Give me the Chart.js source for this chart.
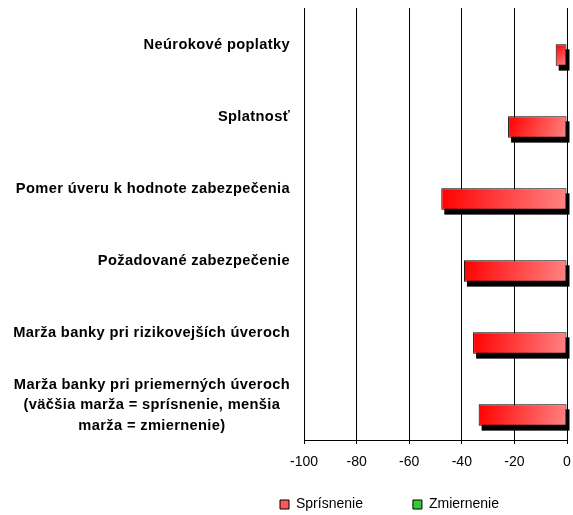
<!DOCTYPE html>
<html>
<head>
<meta charset="utf-8">
<script src="https://cdn.jsdelivr.net/npm/chart.js@4"></script>
<style>
  html, body { margin: 0; padding: 0; background: #fff; }
  #wrap { width: 573px; height: 515px; position: relative; }
</style>
</head>
<body>
<div id="wrap"><canvas id="creditChart"></canvas></div>
<script>
// Data
const categories = [
	'Neúrokové poplatky',
	'Splatnosť',
	'Pomer úveru k hodnote zabezpečenia',
	'Požadované zabezpečenie',
	'Marža banky pri rizikovejších úveroch',
	['Marža banky pri priemerných úveroch', '(väčšia marža = sprísnenie, menšia', 'marža = zmiernenie)']
];
const sprisnenie = [-4.3, -22.4, -47.8, -39.2, -35.7, -33.6];
const zmiernenie = [0, 0, 0, 0, 0, 0];
const xTicks = [-100, -80, -60, -40, -20, 0];
const seriesNames = ['Zmiernenie', 'Sprísnenie'];

const legendFill = ['#33cc33', '#ff5757'];
const legendPad = 50;

Chart.defaults.font.family = '"Liberation Sans", Arial, sans-serif';
Chart.defaults.color = '#000';

// gradient for each red bar, strong red on the left, lighter to the right
function barFill(context) {
	const chart = context.chart;
	const xs = chart.scales.x;
	const ys = chart.scales.y;
	if (!xs || !ys || context.raw == null) return '#ff4040';
	const x0 = xs.getPixelForValue(context.raw);
	const x1 = xs.getPixelForValue(0);
	const yc = ys.getPixelForValue(context.dataIndex);
	if (![x0, x1, yc].every(Number.isFinite)) return '#ff4040';
	const g = chart.ctx.createLinearGradient(x0, yc, x1, yc + 22);
	g.addColorStop(0, '#ff0000');
	g.addColorStop(1, '#ff8585');
	return g;
}

// black drop shadow under the bars
const barShadow = {
	id: 'barShadow',
	beforeDatasetsDraw(chart) {
		const ctx = chart.ctx;
		ctx.save();
		ctx.fillStyle = '#000';
		chart.getDatasetMeta(1).data.forEach(bar => {
			const p = bar.getProps(['x', 'y', 'base', 'height'], true);
			const w = Math.abs(p.base - p.x);
			if (w > 0) ctx.fillRect(Math.min(p.x, p.base) + 3, p.y - p.height / 2 + 5, w, p.height);
		});
		ctx.restore();
	}
};

// category labels: block right aligned, lines centred (like Excel)
const categoryLabels = {
	id: 'categoryLabels',
	afterDraw(chart) {
		const ctx = chart.ctx;
		const ys = chart.scales.y;
		const right = ys.right - 14;
		ctx.save();
		ctx.font = 'bold 14.67px "Liberation Sans", Arial, sans-serif';
		ctx.letterSpacing = '0.35px';
		ctx.fillStyle = '#000';
		ctx.textAlign = 'center';
		ctx.textBaseline = 'middle';
		chart.data.labels.forEach((label, i) => {
			const lines = Array.isArray(label) ? label : [label];
			const w = Math.max(...lines.map(l => ctx.measureText(l).width));
			const cx = right - w / 2;
			const yc = ys.getPixelForTick(i) + 1;
			lines.forEach((l, k) => {
				ctx.fillText(l, cx, yc + (k - (lines.length - 1) / 2) * 20.5);
			});
		});
		ctx.restore();
	}
};

// put the legend where the original has it
const legendPlace = {
	id: 'legendPlace',
	afterLayout(chart) {
		const lg = chart.legend;
		lg.top = 497.5 - legendPad;
		lg.left = 280 - legendPad;
	}
};

const ctx = document.getElementById('creditChart').getContext('2d');
new Chart(ctx, {
	type: 'bar',
	data: {
		labels: categories,
		datasets: [{
			label: seriesNames[0],
			data: zmiernenie,
			backgroundColor: '#33cc33',
			borderWidth: 0
		}, {
			label: seriesNames[1],
			data: sprisnenie,
			backgroundColor: barFill,
			borderColor: '#000',
			borderWidth: 1,
			borderSkipped: false
		}]
	},
	options: {
		indexAxis: 'y',
		responsive: true,
		maintainAspectRatio: false,
		animation: false,
		events: [],
		categoryPercentage: 0.61,
		barPercentage: 0.97,
		layout: {
			padding: { top: 8, right: 6, left: 0, bottom: 0 }
		},
		scales: {
			x: {
				min: -100,
				max: 0,
				afterBuildTicks: s => { s.ticks = xTicks.map(v => ({ value: v })); },
				afterFit: s => {
					s.height = 45;
					s.paddingLeft = 0;
					s.paddingRight = 0;
				},
				grid: { color: '#000', lineWidth: 1, tickLength: 4 },
				border: { color: '#000', width: 1 },
				ticks: { font: { size: 14 }, padding: 10, maxRotation: 0 }
			},
			y: {
				afterFit: s => { s.width = 304; },
				grid: { display: false },
				border: { display: false },
				ticks: { display: false }
			}
		},
		plugins: {
			tooltip: { enabled: false },
			legend: {
				position: 'bottom',
				align: 'start',
				reverse: true,
				maxHeight: 30,
				labels: {
					boxWidth: 9,
					boxHeight: 9,
					padding: legendPad,
					font: { size: 14 },
					generateLabels(chart) {
						const items = Chart.defaults.plugins.legend.labels.generateLabels(chart);
						items.forEach(it => {
							it.fillStyle = legendFill[it.datasetIndex];
							it.strokeStyle = '#000';
							it.lineWidth = 1;
						});
						return items;
					}
				}
			}
		}
	},
	plugins: [barShadow, categoryLabels, legendPlace]
});
</script>
</body>
</html>
